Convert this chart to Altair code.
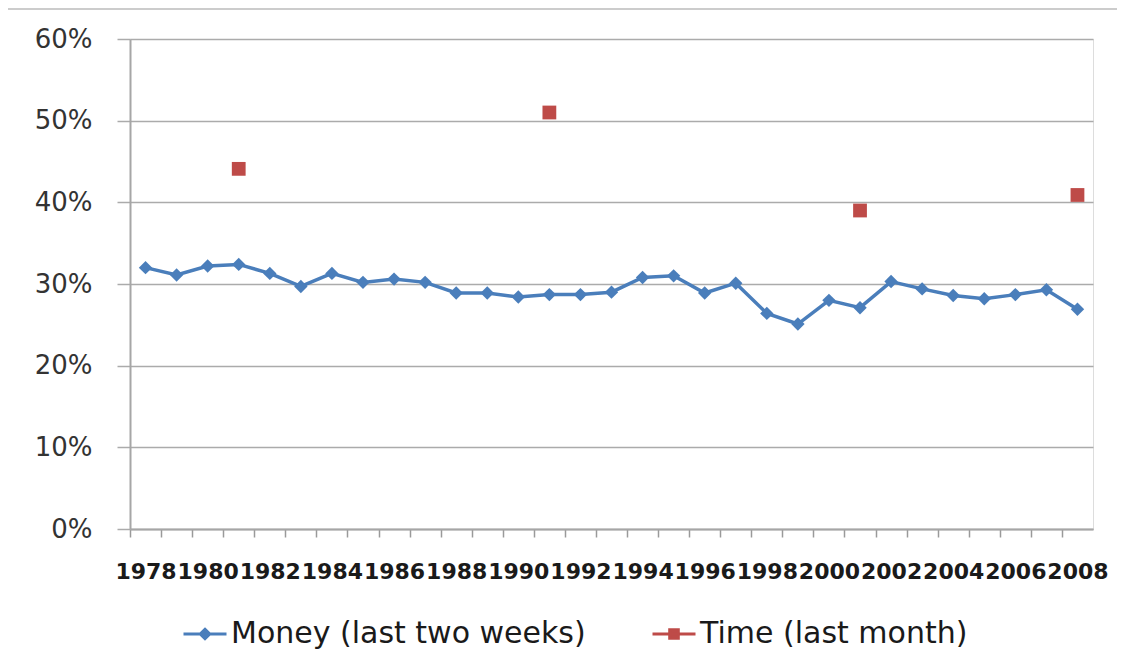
import altair as alt
import pandas as pd
import numpy as np

years = list(range(1978, 2009))
money = [32.0, 31.1, 32.2, 32.4, 31.3, 29.7, 31.3, 30.2, 30.6, 30.2,
         28.9, 28.9, 28.4, 28.7, 28.7, 29.0, 30.8, 31.0, 28.9, 30.1,
         26.4, 25.1, 28.0, 27.1, 30.3, 29.4, 28.6, 28.2, 28.7, 29.3, 26.9]
time_years = [1981, 1991, 2001, 2008]
time_vals = [44.1, 51.0, 39.0, 40.9]

series_names = ["Money (last two weeks)", "Time (last month)"]
series_colors = ["#4A7EBB", "#BE4B48"]
legend_paths = [
    "M-1,0L1,0M0,-0.22L0.22,0L0,0.22L-0.22,0Z",
    "M-1,0L1,0M-0.2,-0.2L0.2,-0.2L0.2,0.2L-0.2,0.2Z",
]
y_ticks = [0, 0.1, 0.2, 0.3, 0.4, 0.5, 0.6]
x_tick_years = list(range(1978, 2010))

money_df = pd.DataFrame({"year": years, "value": np.array(money) / 100,
                         "series": series_names[0]})
time_df = pd.DataFrame({"year": time_years, "value": np.array(time_vals) / 100,
                        "series": series_names[1]})

W, H = 963, 490
half = W / len(years) / 2
xscale = alt.Scale(domain=[1977.5, 2008.5], nice=False, zero=False)
yscale = alt.Scale(domain=[0, 0.6], nice=False)

x_axis = alt.Axis(values=x_tick_years, tickOffset=-half, labelOffset=half,
                  labelExpr="(datum.value % 2 == 0 && datum.value < 2009) ? datum.value : ''",
                  tickSize=8, tickColor="#9a9a9a", tickWidth=1.5,
                  domainColor="#a6a6a6", domainWidth=2, grid=False,
                  labelFont="DejaVu Sans", labelFontWeight="bold",
                  labelFontSize=22, labelColor="#1a1a1a", labelPadding=24,
                  labelOverlap=False, labelFlush=False, title=None)
y_axis = alt.Axis(values=y_ticks, format=".0%", grid=True, gridColor="#ababab",
                  gridWidth=1.5, tickSize=13, tickColor="#ababab", tickWidth=1.5,
                  domainColor="#a6a6a6", domainWidth=2, labelFont="DejaVu Sans",
                  labelFontSize=26, labelColor="#333333", labelPadding=25, title=None)

legend_kw = dict(title=None, orient="none", direction="horizontal",
                 legendX=52, legendY=572, symbolSize=1849, symbolStrokeWidth=3,
                 labelFont="DejaVu Sans", labelFontSize=30, labelColor="#1a1a1a",
                 labelOffset=3, columnPadding=60, padding=0, labelLimit=600)
color_scale = alt.Scale(domain=series_names, range=series_colors)

legend_layer = alt.Chart(time_df).transform_filter("false").mark_point(
    filled=True, opacity=1
).encode(
    x=alt.X("year:Q", scale=xscale, axis=x_axis),
    y=alt.Y("value:Q", scale=yscale, axis=y_axis),
    fill=alt.Fill("series:N", scale=color_scale, legend=alt.Legend(**legend_kw)),
    stroke=alt.Stroke("series:N", scale=color_scale, legend=alt.Legend(**legend_kw)),
    shape=alt.Shape("series:N", scale=alt.Scale(domain=series_names, range=legend_paths),
                    legend=alt.Legend(**legend_kw)),
)

line = alt.Chart(money_df).mark_line(color=series_colors[0], strokeWidth=3.5).encode(
    x=alt.X("year:Q", scale=xscale, axis=x_axis),
    y=alt.Y("value:Q", scale=yscale, axis=y_axis),
)
diamonds = alt.Chart(money_df).mark_point(shape="diamond", filled=True, opacity=1,
                                          color=series_colors[0], size=180).encode(
    x=alt.X("year:Q", scale=xscale, axis=x_axis),
    y=alt.Y("value:Q", scale=yscale, axis=y_axis),
)
squares = alt.Chart(time_df).mark_point(shape="square", filled=True, opacity=1,
                                        color=series_colors[1], size=190).encode(
    x=alt.X("year:Q", scale=xscale, axis=x_axis),
    y=alt.Y("value:Q", scale=yscale, axis=y_axis),
)

frame_top = alt.Chart(time_df).mark_rule(color="#cccccc", strokeWidth=2).encode(
    x=alt.value(-123), x2=alt.value(1010), y=alt.value(-30))
frame_left = alt.Chart(time_df).mark_rule(color="#cccccc", strokeWidth=2).encode(
    x=alt.value(-123), y=alt.value(-31), y2=alt.value(640))

chart = alt.layer(frame_top, frame_left, legend_layer, line, diamonds, squares).properties(
    width=W, height=H,
    autosize=alt.AutoSizeParams(type="none"),
    padding={"left": 122, "top": 31, "right": 24, "bottom": 131},
).configure_view(stroke=None).configure(background="white")

chart.save("out.html", embed_options={"renderer": "svg", "actions": False})
